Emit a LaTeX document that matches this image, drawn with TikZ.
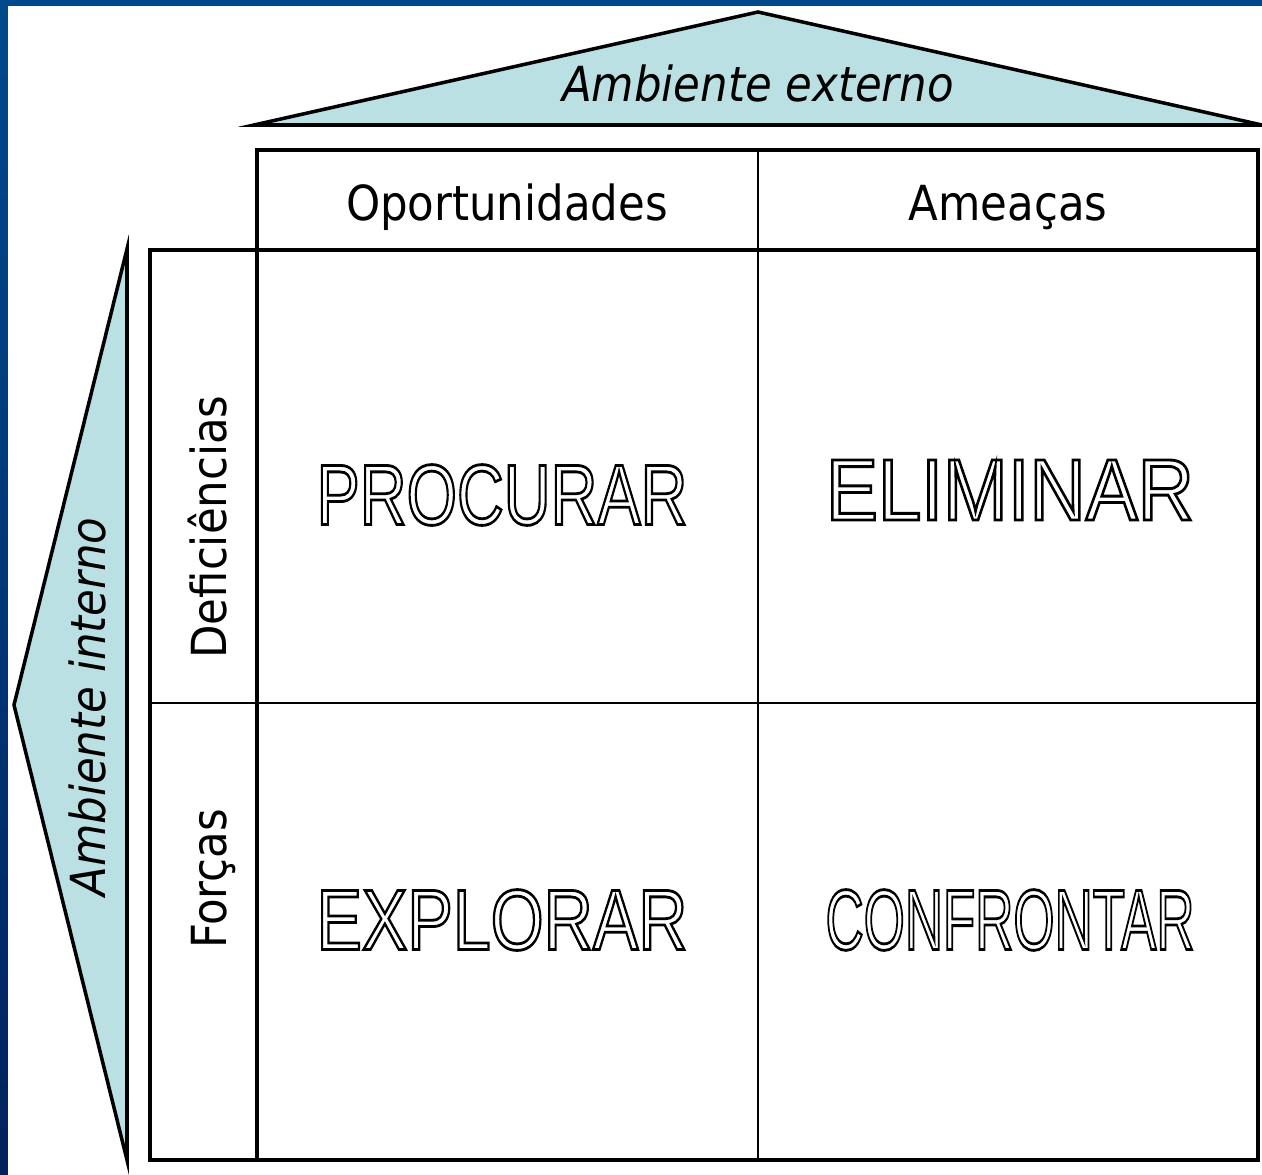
\documentclass[tikz,border=0pt]{standalone}
\usepackage{fontspec, graphicx}
\setmainfont{DejaVu Sans Condensed}
\newfontfamily\wordfont{Liberation Sans}
\definecolor{slideblue}{HTML}{004A8C}
\definecolor{slidenavy}{HTML}{00235F}
\definecolor{wedgecyan}{HTML}{BAE0E3}
\newcommand{\hollow}[3]{\resizebox{#1}{#2}{\wordfont\fontsize{46}{50}\selectfont\special{pdf:literal direct 1.5 w 1 Tr}#3\special{pdf:literal direct 0 Tr}}}

\begin{document}
\begin{tikzpicture}[x=0.02cm,y=-0.02cm]
\tikzstyle{thickline} = [line width=2.2pt]
\tikzstyle{thinline} = [line width=1.6pt]
\tikzstyle{wedge} = [draw, line width=2pt, fill=wedgecyan, line join=miter]
\tikzstyle{heading} = [font=\fontsize{27.5}{30}\selectfont, inner sep=0pt, anchor=base]
\tikzstyle{action} = [inner sep=0pt]
\useasboundingbox (0,0) rectangle (1262,1175);

% slide background
\fill[slideblue] (0,0) rectangle (1262,1175);
\shade[top color=slideblue, bottom color=slidenavy] (0,0) rectangle (8,1175);
\fill[white] (8,6) rectangle (1262,1175);

% triangles
\draw[wedge] (254,125) -- (758,12) -- (1262,125) -- cycle; %external
\draw[wedge] (127,249) -- (14,705) -- (127,1160) -- cycle; %internal

% matrix
\draw[thickline] (257,150) rectangle (1258,250);
\draw[thickline] (150,250) rectangle (257,1160);
\draw[thickline] (257,250) rectangle (1258,1160);
\draw[thinline] (758,150) -- (758,1160);
\draw[thinline] (150,703) -- (1258,703);

% labels
\node[heading] (extlabel) at (758,102) {\itshape Ambiente externo};
\node[heading, rotate=90] (intlabel) at (105,707) {\itshape Ambiente interno};
\node[heading] (opport) at (507,221) {Oportunidades};
\node[heading] (threat) at (1008,221) {Ameaças};
\node[heading, rotate=90] (weak) at (226,527) {Deficiências};
\node[heading, rotate=90] (strong) at (226,879) {Forças};

% actions
\node[action] (seek) at (502,495) {\hollow{7.42cm}{1.2cm}{PROCURAR}};
\node[action] (remove) at (1010,490) {\hollow{7.36cm}{1.2cm}{ELIMINAR}};
\node[action] (exploit) at (502,920) {\hollow{7.42cm}{1.2cm}{EXPLORAR}};
\node[action] (face) at (1010,920) {\hollow{7.38cm}{1.2cm}{CONFRONTAR}};
\end{tikzpicture}
\end{document}
